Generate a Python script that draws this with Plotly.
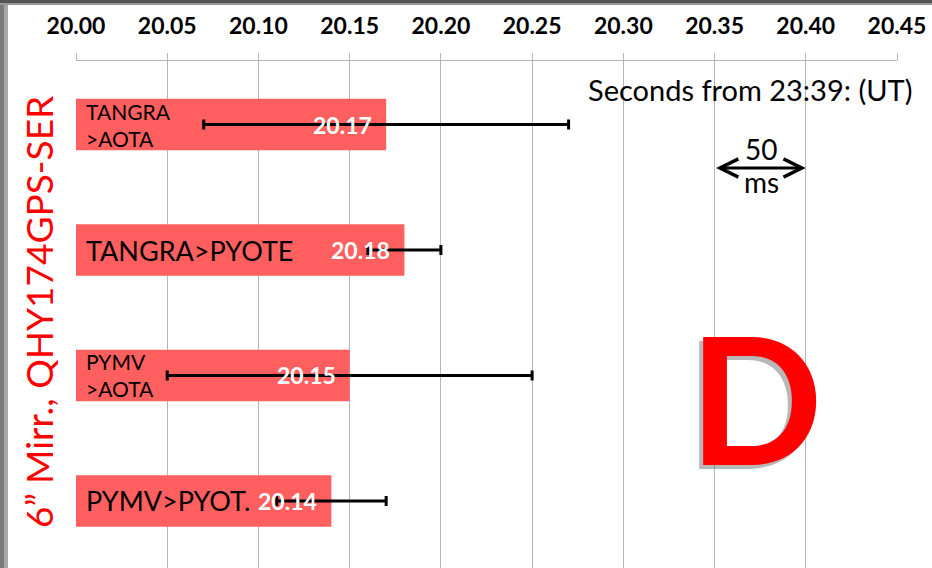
import plotly.graph_objects as go

# Event times (seconds after 23:39 UT) for each camera/software combination
labels = ["TANGRA<br>>AOTA", "TANGRA>PYOTE", "PYMV<br>>AOTA", "PYMV>PYOT."]
label_sizes = [21, 27, 21, 27]
times = [20.17, 20.18, 20.15, 20.14]
errors = [0.10, 0.02, 0.10, 0.03]
tick_vals = [20.00, 20.05, 20.10, 20.15, 20.20, 20.25, 20.30, 20.35, 20.40, 20.45]
tick_text = [f"{v:.2f}" for v in tick_vals]
positions = list(range(len(times)))

FONT = "Lato"
BAR = "#ff5f5f"
GRID = "#b5b5b5"

W, H = 932, 568
ML, MR, MT, MB = 76, 35, 61, 0
pw = W - ML - MR
ph = H - MT - MB


def px_x(p):
    return (p - ML) / pw


def px_y(p):
    return 1 - (p - MT) / ph


fig = go.Figure()
fig.add_trace(go.Bar(
    x=times, y=positions, orientation="h", width=0.41,
    marker=dict(color=BAR, line=dict(width=0)),
    error_x=dict(type="data", array=errors, visible=True,
                 color="black", thickness=3, width=5),
    hoverinfo="skip",
))

ann = []
for pos, lab, size, t in zip(positions, labels, label_sizes, times):
    ann.append(dict(x=20.0, y=pos, xref="x", yref="y", text=lab, showarrow=False,
                    xanchor="left", yanchor="middle", xshift=8, align="left",
                    font=dict(family=FONT, size=size, color="black")))
    ann.append(dict(x=t, y=pos, xref="x", yref="y", text=f"{t:.2f}", showarrow=False,
                    xanchor="right", yanchor="middle", xshift=-12,
                    font=dict(family=FONT, size=23, color="white", weight="bold")))

# big panel letter with a grey drop shadow
D_X, D_Y = 20.3725, 2.17
ann += [
    dict(x=D_X, y=D_Y, xref="x", yref="y", text="D", showarrow=False,
         xanchor="center", yanchor="middle", xshift=-4, yshift=-4,
         font=dict(family=FONT, size=176, color="rgba(0,0,0,0.28)", weight="bold")),
    dict(x=D_X, y=D_Y, xref="x", yref="y", text="D", showarrow=False,
         xanchor="center", yanchor="middle",
         font=dict(family=FONT, size=176, color="#ff0000", weight="bold")),
    dict(x=px_x(38), y=px_y(312), xref="paper", yref="paper",
         text="6\u201d Mirr., QHY174GPS-SER", textangle=-90, showarrow=False,
         xanchor="center", yanchor="middle",
         font=dict(family=FONT, size=37, color="#ff0000")),
    dict(x=px_x(914), y=px_y(90), xref="paper", yref="paper",
         text="Seconds from 23:39: (UT)", showarrow=False,
         xanchor="right", yanchor="middle",
         font=dict(family=FONT, size=29, color="black")),
    dict(x=20.40, y=0.347, ax=20.35, ay=0.347, xref="x", yref="y",
         axref="x", ayref="y", text="", showarrow=True,
         arrowhead=5, startarrowhead=5, arrowside="end+start",
         arrowwidth=3, arrowsize=1.2, startarrowsize=1.2, arrowcolor="black"),
    dict(x=20.3755, y=0.195, xref="x", yref="y", text="50", showarrow=False,
         xanchor="center", yanchor="middle",
         font=dict(family=FONT, size=28, color="black")),
    dict(x=20.3755, y=0.46, xref="x", yref="y", text="ms", showarrow=False,
         xanchor="center", yanchor="middle",
         font=dict(family=FONT, size=28, color="black")),
]

shapes = [
    # window frame edges
    dict(type="rect", xref="paper", yref="paper", x0=px_x(0), x1=px_x(4),
         y0=px_y(H), y1=px_y(0), fillcolor="#7a7a7a", line=dict(width=0), layer="above"),
    dict(type="rect", xref="paper", yref="paper", x0=px_x(4), x1=px_x(8),
         y0=px_y(H), y1=px_y(0), fillcolor="#a8a8a8", line=dict(width=0), layer="above"),
    dict(type="rect", xref="paper", yref="paper", x0=px_x(0), x1=px_x(W),
         y0=px_y(3), y1=px_y(0), fillcolor="#555555", line=dict(width=0), layer="above"),
    dict(type="rect", xref="paper", yref="paper", x0=px_x(0), x1=px_x(W),
         y0=px_y(5), y1=px_y(3), fillcolor="#999999", line=dict(width=0), layer="above"),
]

fig.update_layout(
    width=W, height=H,
    margin=dict(l=ML, r=MR, t=MT, b=MB),
    paper_bgcolor="white", plot_bgcolor="white",
    showlegend=False,
    annotations=ann,
    shapes=shapes,
    xaxis=dict(range=[20.0, 20.45], side="top", tickvals=tick_vals, ticktext=tick_text,
               showgrid=True, gridcolor=GRID, gridwidth=1,
               ticks="outside", ticklen=7, tickcolor=GRID, tickwidth=1,
               showline=True, linecolor=GRID, linewidth=1, mirror=False,
               zeroline=False, ticklabelstandoff=10,
               tickfont=dict(family=FONT, size=23, color="black", weight="bold")),
    yaxis=dict(range=[3.534, -0.506], showticklabels=False, showgrid=False,
               zeroline=False, ticks="", showline=False),
)

fig.write_html("out.html")
